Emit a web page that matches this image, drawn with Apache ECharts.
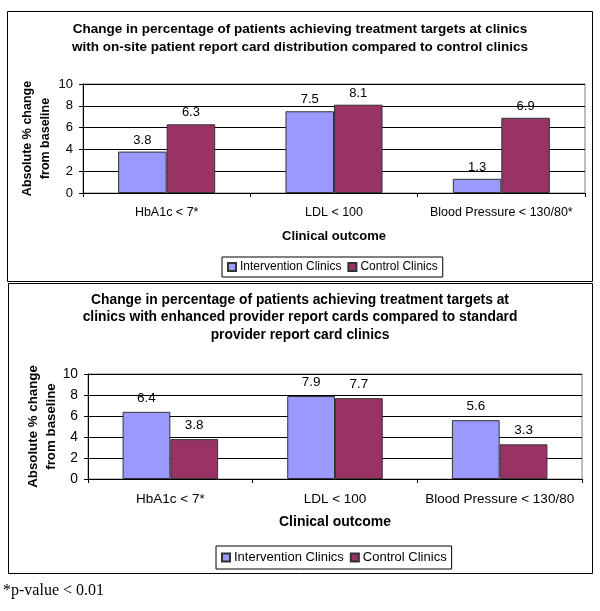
<!DOCTYPE html>
<html>
<head>
<meta charset="utf-8">
<script src="https://cdn.jsdelivr.net/npm/echarts@6/dist/echarts.min.js"></script>
<style>
html,body{margin:0;padding:0;background:#fff;}
#c{width:600px;height:611px;}
</style>
</head>
<body>
<div id="c"></div>
<script>
// ---- data ----
const categories1 = ['HbA1c < 7*', 'LDL < 100', 'Blood Pressure < 130/80*'];
const categories2 = ['HbA1c < 7*', 'LDL < 100', 'Blood Pressure < 130/80'];
const seriesNames = ['Intervention Clinics', 'Control Clinics'];
const intervention1 = [3.8, 7.5, 1.3];
const control1 = [6.3, 8.1, 6.9];
const intervention2 = [6.4, 7.9, 5.6];
const control2 = [3.8, 7.7, 3.3];
const yTicks = [0, 2, 4, 6, 8, 10];
const title1 = 'Change in percentage of patients achieving treatment targets at clinics\nwith on-site patient report card distribution compared to control clinics';
const title2 = 'Change in percentage of patients achieving treatment targets at\nclinics with enhanced provider report cards compared to standard\nprovider report card clinics';
const yName = 'Absolute % change\nfrom baseline';
const xName = 'Clinical outcome';
const footnote = '*p-value < 0.01';

const FONT = '"Liberation Sans", Arial, sans-serif';
const colors = ['#9999FF', '#993366'];

function yAxis(gridIndex, fs, gap, margin) {
  return {
    type: 'value', gridIndex: gridIndex, min: yTicks[0], max: yTicks[yTicks.length - 1], interval: yTicks[1] - yTicks[0],
    name: yName, nameLocation: 'middle', nameGap: gap, nameMoveOverlap: false,
    nameTextStyle: {fontFamily: FONT, fontWeight: 'bold', fontSize: fs, color: '#000', lineHeight: 18},
    axisLine: {show: true, lineStyle: {color: '#000', width: 1}},
    axisTick: {show: true, length: 4, lineStyle: {color: '#000'}},
    axisLabel: {fontFamily: FONT, fontSize: fs + 0.5, color: '#000', margin: margin},
    splitLine: {show: true, lineStyle: {color: '#000', width: 1}}
  };
}
function xAxis(gridIndex, cats, fs, gap) {
  return {
    type: 'category', gridIndex: gridIndex, data: cats,
    name: xName, nameLocation: 'middle', nameGap: gap, nameMoveOverlap: false,
    nameTextStyle: {fontFamily: FONT, fontWeight: 'bold', fontSize: fs, color: '#000'},
    axisLine: {show: true, lineStyle: {color: '#000', width: 1}},
    axisTick: {show: true, length: 4, alignWithLabel: false, lineStyle: {color: '#000'}},
    axisLabel: {fontFamily: FONT, fontSize: fs - 0.5, color: '#000', margin: 13, interval: 0},
    splitLine: {show: false}
  };
}
function bar(name, data, idx, colorIdx, fs, dist) {
  return {
    type: 'bar', name: name, data: data, xAxisIndex: idx, yAxisIndex: idx,
    barGap: '0%', barCategoryGap: '42%',
    itemStyle: {color: colors[colorIdx], borderColor: '#333', borderWidth: 1},
    label: {show: true, position: 'top', distance: dist, fontFamily: FONT, fontSize: fs, color: '#000',
      formatter: p => p.value.toFixed(1)},
    emphasis: {disabled: true},
    animation: false
  };
}

const chart = echarts.init(document.getElementById('c'), null, {renderer: 'canvas'});
chart.setOption({
  backgroundColor: '#fff',
  animation: false,
  title: [
    {text: title1, left: 300, textAlign: 'center', top: 20, padding: 0,
     textStyle: {fontFamily: FONT, fontWeight: 'bold', fontSize: 13.5, color: '#000', lineHeight: 18}},
    {text: title2, left: 300, textAlign: 'center', top: 291, padding: 0,
     textStyle: {fontFamily: FONT, fontWeight: 'bold', fontSize: 13.8, color: '#000', lineHeight: 17.5}}
  ],
  legend: [
    {data: seriesNames, left: 222, top: 257, orient: 'horizontal', padding: [4, 5], itemGap: 6,
     itemWidth: 8, itemHeight: 8, icon: 'rect', borderColor: '#000', borderWidth: 1,
     textStyle: {fontFamily: FONT, fontSize: 12, color: '#000', padding: [0, 0, 0, -1]}, selectedMode: false},
    {data: seriesNames, left: 216, top: 546, orient: 'horizontal', padding: [5, 5], itemGap: 6,
     itemWidth: 8, itemHeight: 8, icon: 'rect', borderColor: '#000', borderWidth: 1,
     textStyle: {fontFamily: FONT, fontSize: 13, color: '#000', padding: [0, 0, 0, -1]}, selectedMode: false}
  ],
  grid: [
    {left: 83, top: 84, width: 502, height: 109, show: true, borderColor: '#808080', borderWidth: 1, containLabel: false},
    {left: 88, top: 374, width: 494, height: 105, show: true, borderColor: '#808080', borderWidth: 1, containLabel: false}
  ],
  xAxis: [xAxis(0, categories1, 13, 37), xAxis(1, categories2, 14, 36)],
  yAxis: [yAxis(0, 12.5, 28, 10), yAxis(1, 13.3, 28, 10)],
  series: [
    bar(seriesNames[0], intervention1, 0, 0, 13, 5),
    bar(seriesNames[1], control1, 0, 1, 13, 5),
    bar(seriesNames[0], intervention2, 1, 0, 13.5, 7),
    bar(seriesNames[1], control2, 1, 1, 13.5, 7)
  ],
  graphic: [
    {type: 'rect', shape: {x: 7.5, y: 11.5, width: 585, height: 270}, silent: true,
     style: {fill: null, stroke: '#000', lineWidth: 1}},
    {type: 'rect', shape: {x: 8.5, y: 283.5, width: 584, height: 290}, silent: true,
     style: {fill: null, stroke: '#000', lineWidth: 1}},
    {type: 'text', left: 3, top: 583, silent: true,
     style: {text: footnote, fontFamily: '"Liberation Serif", "Times New Roman", serif', fontSize: 16, fill: '#000'}}
  ]
});
</script>
</body>
</html>
